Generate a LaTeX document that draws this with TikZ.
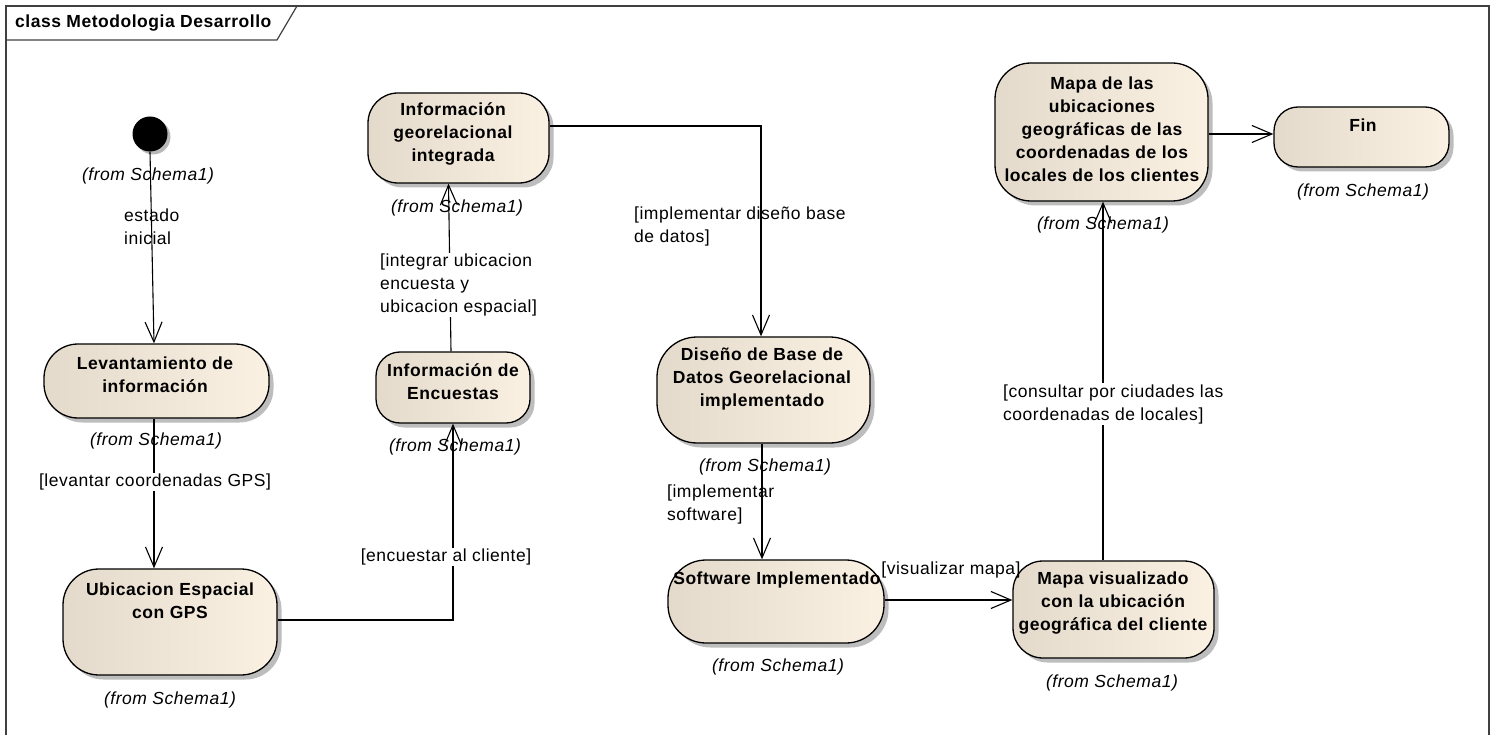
\documentclass[tikz,border=0pt]{standalone}
\usepackage{fontspec}
\setmainfont{Liberation Sans}[LetterSpace=3]
\usetikzlibrary{arrows.meta,shadows}

\definecolor{actleft}{RGB}{228,218,204}
\definecolor{actright}{RGB}{251,241,227}
\newcommand{\easize}{\fontsize{17.5}{23}\selectfont}

\tikzset{
  act/.style={draw=black, line width=1.3pt, left color=actleft, right color=actright,
    drop shadow={shadow xshift=4.5pt, shadow yshift=-4.5pt, fill=black!26, opacity=1},
    inner sep=0pt},
  acttext/.style={font=\easize\bfseries, align=center, inner sep=0pt},
  fromlbl/.style={font=\easize\itshape, inner sep=0pt},
  guard/.style={font=\easize, inner sep=1pt},
  guardbg/.style={guard, fill=white},
  flow/.style={line width=1.1pt, -{Straight Barb[length=20pt,width=17pt,line width=1.1pt]}},
}

\begin{document}
\begin{tikzpicture}[x=1pt, y=-1pt]
\useasboundingbox (0,0) rectangle (1494,735);

% diagram frame and name tab
\draw[line width=1.2pt, black!75] (6,735) -- (6,6) -- (1489,6) -- (1489,735);
\draw[line width=1.2pt, black!75] (6,40) -- (277,40) -- (297,6);
\node[font=\easize\bfseries, anchor=west, inner sep=0pt] (title) at (15,23) {class Metodologia Desarrollo};

% initial state
\node[circle, fill=black, minimum size=35pt, inner sep=0pt,
      drop shadow={shadow xshift=3pt, shadow yshift=-3pt, fill=black!28, opacity=1}] (init) at (150,134) {};

% activities
\node[act, rounded corners=34pt, minimum width=225pt, minimum height=74pt] (lev) at (156.5,381) {};
\node[act, rounded corners=36pt, minimum width=214pt, minimum height=106pt] (ubic) at (170,622) {};
\node[act, rounded corners=24pt, minimum width=154pt, minimum height=71pt] (enc) at (453,387.5) {};
\node[act, rounded corners=30pt, minimum width=181pt, minimum height=90pt] (geo) at (458.5,138) {};
\node[act, rounded corners=40pt, minimum width=213pt, minimum height=106pt] (dis) at (763.5,390) {};
\node[act, rounded corners=38pt, minimum width=216pt, minimum height=83pt] (soft) at (776,601.5) {};
\node[act, rounded corners=30pt, minimum width=201pt, minimum height=97pt] (mvis) at (1113.5,609.5) {};
\node[act, rounded corners=36pt, minimum width=213pt, minimum height=138pt] (mub) at (1101.5,132) {};
\node[act, rounded corners=24pt, minimum width=175pt, minimum height=60pt] (fin) at (1361.5,137) {};

% activity names
\node[acttext] (levT) at (155,375) {Levantamiento de\\información};
\node[acttext] (ubicT) at (170,601) {Ubicacion Espacial\\con GPS};
\node[acttext] (encT) at (453,382) {Información de\\Encuestas};
\node[acttext] (geoT) at (453,134) {Información\\georelacional\\integrada};
\node[acttext] (disT) at (762,379) {Diseño de Base de\\Datos Georelacional\\implementado};
\node[acttext] (softT) at (777,580) {Software Implementado};
\node[acttext] (mvisT) at (1113,603) {Mapa visualizado\\con la ubicación\\geográfica del cliente};
\node[acttext] (mubT) at (1102,129) {Mapa de las\\ubicaciones\\geográficas de las\\coordenadas de los\\locales de los clientes};
\node[acttext] (finT) at (1363,125) {Fin};

% owner notes
\node[fromlbl] (initF) at (148,176) {(from Schema1)};
\node[fromlbl] (levF) at (156,441) {(from Schema1)};
\node[fromlbl] (ubicF) at (170,700) {(from Schema1)};
\node[fromlbl] (encF) at (455,447) {(from Schema1)};
\node[fromlbl] (geoF) at (457,208) {(from Schema1)};
\node[fromlbl] (disF) at (765,467) {(from Schema1)};
\node[fromlbl] (softF) at (778,667) {(from Schema1)};
\node[fromlbl] (mvisF) at (1112,683) {(from Schema1)};
\node[fromlbl] (mubF) at (1103,225) {(from Schema1)};
\node[fromlbl] (finF) at (1363,192) {(from Schema1)};

% transitions
\draw[flow] (init.south) -- ([xshift=-2.5pt]lev.north);
\draw[flow] ([xshift=-2.5pt]lev.south) -- ([xshift=-2.5pt]lev.south |- ubic.north);
\draw[flow] ([yshift=2pt]ubic.east) -| (enc.south);
\draw[flow] ([xshift=-2pt]enc.north) -- ([xshift=-10pt]geo.south);
\draw[flow] ([yshift=12pt]geo.east) -| ([xshift=-2.5pt]dis.north);
\draw[flow] ([xshift=-1.5pt]dis.south) -- ([xshift=-1.5pt]dis.south |- soft.north);
\draw[flow] ([yshift=1.5pt]soft.east) -- ([yshift=1.5pt]soft.east -| mvis.west);
\draw[flow] ([xshift=-10.5pt]mvis.north) -- ([xshift=-10.5pt]mvis.north |- mub.south);
\draw[flow] ([yshift=-2pt]mub.east) -- ([yshift=-2pt]mub.east -| fin.west);

% guards
\node[guard, anchor=west, align=left] (gIni) at (123,227) {estado\\inicial};
\node[guardbg] (gLev) at (155,482) {[levantar coordenadas GPS]};
\node[guardbg] (gEnc) at (446,557) {[encuestar al cliente]};
\node[guardbg, anchor=west, align=left] (gInt) at (379,285) {[integrar ubicacion\\encuesta y\\ubicacion espacial]};
\node[guard, anchor=west, align=left] (gDis) at (633,226) {[implementar diseño base\\de datos]};
\node[guard, anchor=west, align=left] (gSoft) at (666,504) {[implementar\\software]};
\node[guard] (gVis) at (951,570) {[visualizar mapa]};
\node[guardbg, anchor=west, align=left] (gCon) at (1002,404) {[consultar por ciudades las\\coordenadas de locales]};
\end{tikzpicture}
\end{document}
